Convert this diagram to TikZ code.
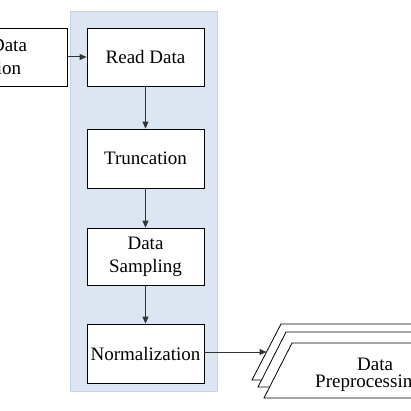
\documentclass[tikz,border=0pt]{standalone}
\usepackage{fontspec}
\setmainfont{Liberation Serif}
\newfontfamily\tnrfont{Liberation Serif}
\usetikzlibrary{arrows.meta}
\definecolor{panelfill}{HTML}{DCE6F2}
\definecolor{paneldraw}{HTML}{C5D3E6}
\definecolor{arrowcol}{HTML}{333333}
\tikzset{
  procbox/.style={draw=black, line width=0.8pt, fill=white, rectangle, minimum width=117pt, inner sep=0pt, align=center, font=\tnrfont\fontsize{19}{23}\selectfont},
  flow/.style={draw=arrowcol, line width=1pt, -{Triangle[length=7pt,width=6pt]}},
  docshape/.style={draw=black, line width=0.8pt, fill=white},
  lbl/.style={inner sep=0pt, align=left, font=\tnrfont\fontsize{19}{17}\selectfont}
}
\begin{document}
\begin{tikzpicture}[x=1pt,y=-1pt]
\useasboundingbox (0,0) rectangle (411,411);
% panel
\fill[panelfill, draw=paneldraw, line width=0.8pt] (70,11) rectangle (217,391);
% boxes
\node[procbox, minimum height=58pt] (src) at (9,57) {Data\\ion};
\node[procbox, minimum height=58pt] (read) at (145.5,57) {Read Data};
\node[procbox, minimum height=59pt] (trunc) at (145.5,158.5) {Truncation};
\node[procbox, minimum height=57pt] (samp) at (145.5,256.5) {Data\\Sampling};
\node[procbox, minimum height=59pt] (norm) at (145.5,353.5) {Normalization};
% document stack
\path[docshape] (281,324) -- (480,324) -- (480,380) -- (252,380) -- cycle;
\path[docshape] (286,332) -- (480,332) -- (480,387) -- (258,387) -- cycle;
\path[docshape] (292,343) -- (480,343) -- (480,398) -- (264,398) -- cycle;
\node[lbl, anchor=north west] (dp) at (315,358) {\hspace*{42pt}Data\\Preprocessing};
\coordinate (dpin) at (266.5,352);
% connectors
\draw[flow] (src.east) -- (read.west);
\draw[flow] (read) -- (trunc);
\draw[flow] (trunc) -- (samp);
\draw[flow] (samp) -- (norm);
\draw[flow] (norm.east |- dpin) -- (dpin);
\end{tikzpicture}
\end{document}
